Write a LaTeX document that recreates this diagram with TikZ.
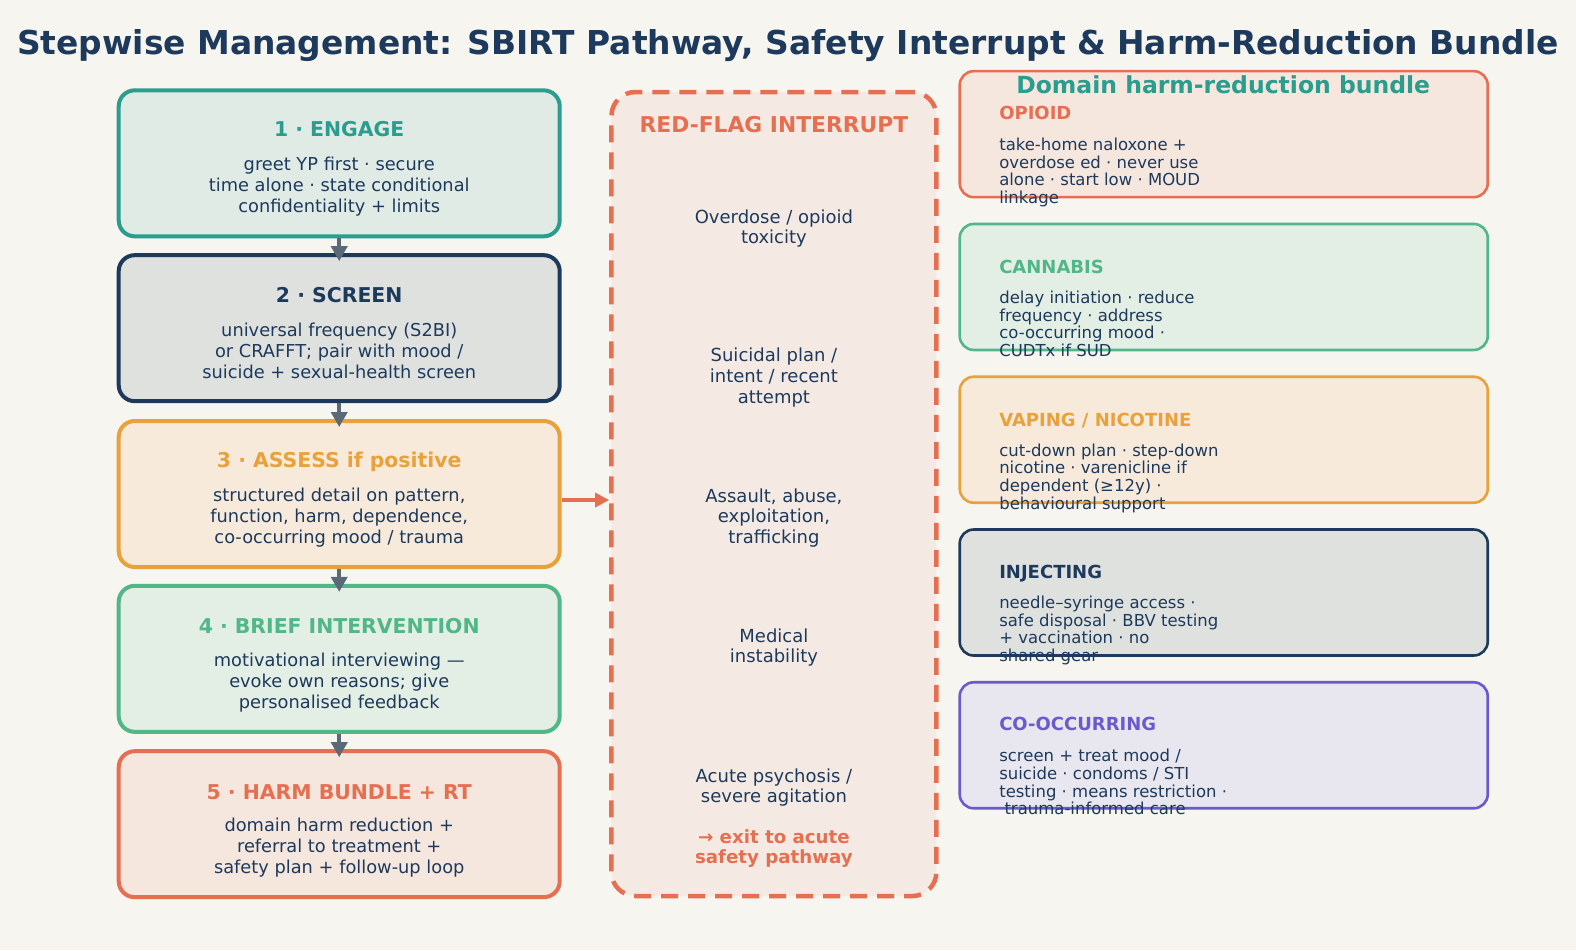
\documentclass[tikz,border=0pt]{standalone}
\usepackage{fontspec}
\setmainfont{DejaVu Sans}
\usetikzlibrary{arrows.meta}
\definecolor{bg}{HTML}{F7F5EF}
\definecolor{navy}{HTML}{1D3A5C}
\definecolor{teal}{HTML}{2A9D8F}
\definecolor{tealfill}{HTML}{E0EBE5}
\definecolor{greyfill}{HTML}{DFE1DF}
\definecolor{orange}{HTML}{E9A23B}
\definecolor{orangefill}{HTML}{F7EADB}
\definecolor{green}{HTML}{52B788}
\definecolor{greenfill}{HTML}{E3EEE4}
\definecolor{coral}{HTML}{E76F51}
\definecolor{coralfill}{HTML}{F5E6DE}
\definecolor{purple}{HTML}{6A5ACD}
\definecolor{purplefill}{HTML}{E8E6EE}
\definecolor{arrowgrey}{HTML}{5A6878}
\definecolor{rffill}{HTML}{F5EAE3}
\newcommand\lnS{\rule[-0.2\baselineskip]{0pt}{\baselineskip}}
\tikzset{
  stepbox/.style={draw, line width=4pt, rounded corners=16pt, minimum width=441pt, minimum height=146pt, inner sep=0pt},
  bundlebox/.style={draw, line width=2.6pt, rounded corners=14pt, minimum width=528pt, minimum height=126pt, inner sep=0pt},
  steptitle/.style={inner sep=0pt, align=center, font=\fontsize{20.4}{24}\selectfont\bfseries},
  stepbody/.style={inner sep=0pt, align=center, text=navy, font=\fontsize{17.8}{21.1}\selectfont},
  rfitem/.style={inner sep=0pt, align=center, text=navy, font=\fontsize{18}{20.6}\selectfont},
  bhead/.style={inner sep=0pt, anchor=west, font=\fontsize{18}{21}\selectfont\bfseries},
  bbody/.style={inner sep=0pt, anchor=west, align=left, text=navy, font=\fontsize{16.5}{17.6}\selectfont},
  greyarrow/.style={draw=arrowgrey, line width=4pt, shorten >=-8pt, -{Triangle[width=16pt,length=15pt]}},
  redarrow/.style={draw=coral, line width=3.2pt, -{Triangle[width=14pt,length=14pt]}}
}
\begin{document}
\begin{tikzpicture}[x=1.0051pt,y=-1.0051pt]
\fill[bg] (0,0) rectangle (1568,945.2);
\useasboundingbox (0,0) rectangle (1568,945.2);

\node[inner sep=0pt, text=navy, font=\fontsize{32.9}{39.5}\selectfont\bfseries] (title) at (784,42.5)
  {\lnS Stepwise Management: SBIRT Pathway, Safety Interrupt \& Harm-Reduction Bundle};

% step boxes
\node[stepbox, draw=teal, fill=tealfill] (s1) at (337.5,162.5) {};
\node[stepbox, draw=navy, fill=greyfill] (s2) at (337.5,326.5) {};
\node[stepbox, draw=orange, fill=orangefill] (s3) at (337.5,491.5) {};
\node[stepbox, draw=green, fill=greenfill] (s4) at (337.5,655.5) {};
\node[stepbox, draw=coral, fill=coralfill] (s5) at (337.5,820) {};

\node[steptitle, text=teal] (t1) at (337.5,129) {\lnS 1 · ENGAGE};
\node[stepbody] (b1) at (337.5,184) {\lnS greet YP first · secure\\\lnS time alone · state conditional\\\lnS confidentiality + limits};
\node[steptitle, text=navy] (t2) at (337.5,294) {\lnS 2 · SCREEN};
\node[stepbody] (b2) at (337.5,349) {\lnS universal frequency (S2BI)\\\lnS or CRAFFT; pair with mood /\\\lnS suicide + sexual-health screen};
\node[steptitle, text=orange] (t3) at (337.5,458) {\lnS 3 · ASSESS if positive};
\node[stepbody] (b3) at (337.5,513.5) {\lnS structured detail on pattern,\\\lnS function, harm, dependence,\\\lnS co-occurring mood / trauma};
\node[steptitle, text=green] (t4) at (337.5,623) {\lnS 4 · BRIEF INTERVENTION};
\node[stepbody] (b4) at (337.5,678) {\lnS motivational interviewing —\\\lnS evoke own reasons; give\\\lnS personalised feedback};
\node[steptitle, text=coral] (t5) at (337.5,788) {\lnS 5 · HARM BUNDLE + RT};
\node[stepbody] (b5) at (337.5,842) {\lnS domain harm reduction +\\\lnS referral to treatment +\\\lnS safety plan + follow-up loop};

\draw[greyarrow] (s1.south) -- (s2.north);
\draw[greyarrow] (s2.south) -- (s3.north);
\draw[greyarrow] (s3.south) -- (s4.north);
\draw[greyarrow] (s4.south) -- (s5.north);

% red-flag interrupt
\node[draw=coral, fill=rffill, line width=4.5pt, dash pattern=on 17pt off 10pt, rounded corners=24pt,
  minimum width=325pt, minimum height=804pt, inner sep=0pt] (rf) at (770,491.5) {};
\coordinate (ay) at (0,497.5);
\draw[redarrow] (s3.east |- ay) -- (rf.west |- ay);

\node[inner sep=0pt, text=coral, font=\fontsize{21.8}{26}\selectfont\bfseries] (rft) at (770,124) {\lnS RED-FLAG INTERRUPT};
\node[rfitem] (r1) at (770,226) {\lnS Overdose / opioid\\\lnS toxicity};
\node[rfitem] (r2) at (770,374.5) {\lnS Suicidal plan /\\\lnS intent / recent\\\lnS attempt};
\node[rfitem] (r3) at (770,514) {\lnS Assault, abuse,\\\lnS exploitation,\\\lnS trafficking};
\node[rfitem] (r4) at (770,643) {\lnS Medical\\\lnS instability};
\node[rfitem] (r5) at (770,782.5) {\lnS Acute psychosis /\\\lnS severe agitation};
\node[rfitem, text=coral, font=\fontsize{18.2}{20.6}\selectfont\bfseries] (r6) at (770,843) {\lnS → exit to acute\\\lnS safety pathway};

% bundle boxes
\node[bundlebox, draw=coral, fill=coralfill] (d1) at (1217.5,133.5) {};
\node[bundlebox, draw=green, fill=greenfill] (d2) at (1217.5,285.5) {};
\node[bundlebox, draw=orange, fill=orangefill] (d3) at (1217.5,437.5) {};
\node[bundlebox, draw=navy, fill=greyfill] (d4) at (1217.5,589.5) {};
\node[bundlebox, draw=purple, fill=purplefill] (d5) at (1217.5,741.5) {};

\node[inner sep=0pt, text=teal, font=\fontsize{23.5}{28}\selectfont\bfseries] (dh) at (1217,85) {\lnS Domain harm-reduction bundle};

\node[bhead, text=coral] (h1) at (994,113) {\lnS OPIOID};
\node[bbody] (p1) at (994,171) {\lnS take-home naloxone +\\\lnS overdose ed · never use\\\lnS alone · start low · MOUD\\\lnS linkage};
\node[bhead, text=green] (h2) at (994,266) {\lnS CANNABIS};
\node[bbody] (p2) at (994,323) {\lnS delay initiation · reduce\\\lnS frequency · address\\\lnS co-occurring mood ·\\\lnS CUDTx if SUD};
\node[bhead, text=orange] (h3) at (994,418) {\lnS VAPING / NICOTINE};
\node[bbody] (p3) at (994,475) {\lnS cut-down plan · step-down\\\lnS nicotine · varenicline if\\\lnS dependent (≥12y) ·\\\lnS behavioural support};
\node[bhead, text=navy] (h4) at (994,569) {\lnS INJECTING};
\node[bbody] (p4) at (994,626.5) {\lnS needle–syringe access ·\\\lnS safe disposal · BBV testing\\\lnS + vaccination · no\\\lnS shared gear};
\node[bhead, text=purple] (h5) at (994,721) {\lnS CO-OCCURRING};
\node[bbody] (p5) at (994,779) {\lnS screen + treat mood /\\\lnS suicide · condoms / STI\\\lnS testing · means restriction ·\\\lnS\ trauma-informed care};
\end{tikzpicture}
\end{document}
